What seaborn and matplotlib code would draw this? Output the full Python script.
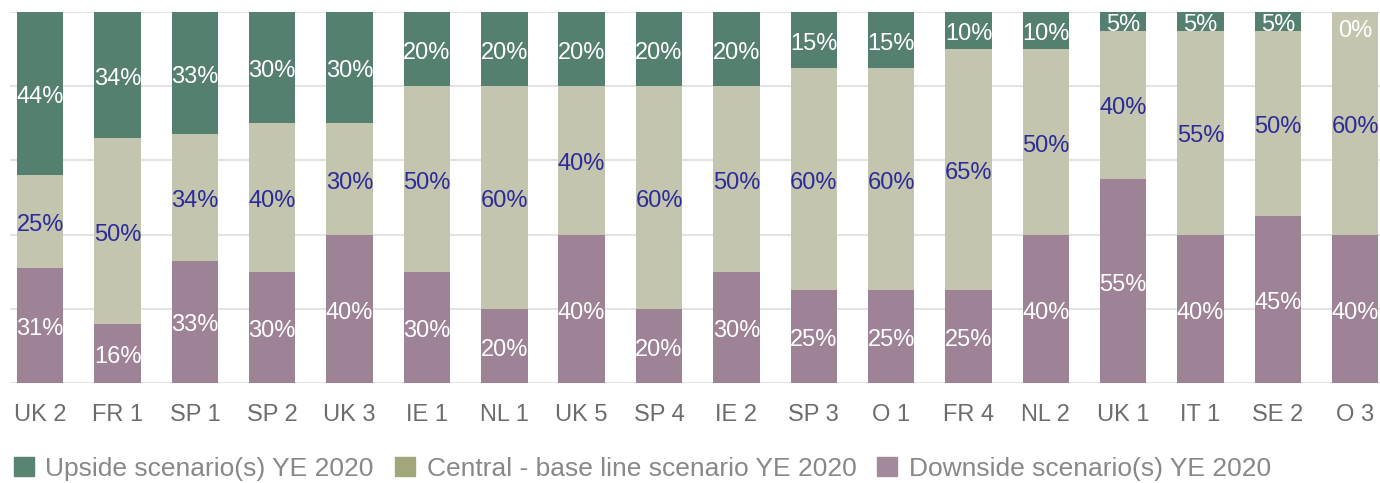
import matplotlib
matplotlib.use("Agg")
import matplotlib.pyplot as plt
import matplotlib.patches as mpatches
import numpy as np
import pandas as pd
import seaborn as sns

# Data (percent of scenario weighting)
banks = ["UK 2", "FR 1", "SP 1", "SP 2", "UK 3", "IE 1", "NL 1", "UK 5", "SP 4",
         "IE 2", "SP 3", "O 1", "FR 4", "NL 2", "UK 1", "IT 1", "SE 2", "O 3"]
upside = [44, 34, 33, 30, 30, 20, 20, 20, 20, 20, 15, 15, 10, 10, 5, 5, 5, 0]
central = [25, 50, 34, 40, 30, 50, 60, 40, 60, 50, 60, 60, 65, 50, 40, 55, 50, 60]
downside = [31, 16, 33, 30, 40, 30, 20, 40, 20, 30, 25, 25, 25, 40, 55, 40, 45, 40]

col_up = "#557f6f"
col_mid = "#c4c5ae"
col_down = "#9e8296"
leg_up = "#5a8472"
leg_mid = "#a2a67b"
leg_down = "#a28a9c"

df = pd.DataFrame({"bank": banks, "up": upside, "mid": central, "down": downside})
df["top"] = df["up"] + df["mid"] + df["down"]
df["midtop"] = df["mid"] + df["down"]

sns.set_style("white")
plt.rcParams["font.family"] = ["Liberation Sans", "DejaVu Sans"]

fig = plt.figure(figsize=(13.8, 4.83), dpi=100)
ax = fig.add_axes([10 / 1380, 100 / 483, 1370 / 1380, 371 / 483])

# stacked bars drawn back to front
for col, c in [("top", col_up), ("midtop", col_mid), ("down", col_down)]:
    sns.barplot(data=df, x="bank", y=col, color=c, width=0.6, ax=ax,
                saturation=1, linewidth=0, zorder=3)

# segment labels
lab_fs = 17
for i, (u, m, d) in enumerate(zip(upside, central, downside)):
    ax.text(i, d / 2 - 1, f"{d}%", ha="center", va="center", color="white",
            fontsize=lab_fs, zorder=5)
    ax.text(i, d + m / 2 - 1, f"{m}%", ha="center", va="center", color="#2b2b99",
            fontsize=lab_fs, zorder=5)
    yu = d + m + u / 2 - 1 if u > 0 else 95
    ax.text(i, yu, f"{u}%", ha="center", va="center", color="white",
            fontsize=lab_fs, zorder=5)

ax.set_ylim(0, 100)
ax.set_xlim(-0.39, 17.32)
ax.set_yticks([0, 20, 40, 60, 80, 100])
ax.set_yticklabels([])
ax.yaxis.grid(True, color="#e3e3e3", linewidth=1.5, zorder=0)
ax.set_axisbelow(True)
ax.tick_params(axis="x", length=0, pad=15, labelsize=17, labelcolor="#6c6c6c")
ax.tick_params(axis="y", length=0)
ax.set_xlabel("")
ax.set_ylabel("")
sns.despine(ax=ax, left=True, bottom=True, top=True, right=True)

handles = [mpatches.Patch(color=leg_up, label="Upside scenario(s) YE 2020"),
           mpatches.Patch(color=leg_mid, label="Central - base line scenario YE 2020"),
           mpatches.Patch(color=leg_down, label="Downside scenario(s) YE 2020")]
leg = fig.legend(handles=handles, loc="center left", bbox_to_anchor=(-10 / 1380, 14 / 483),
                 ncol=3, frameon=False, fontsize=19, handlelength=0.75,
                 handleheight=0.75, handletextpad=0.45, columnspacing=0.8)
for t in leg.get_texts():
    t.set_color("#888888")

fig.savefig("out.png", dpi=100)
